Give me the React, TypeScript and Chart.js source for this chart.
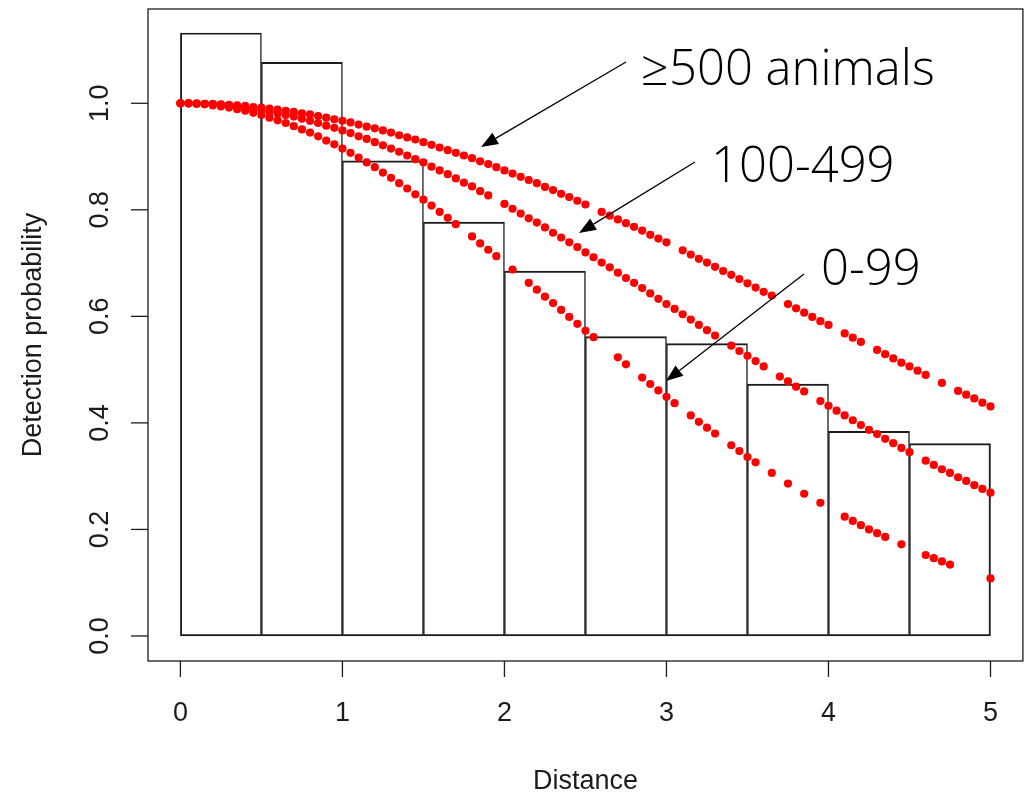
import React, { useEffect, useRef } from "react";
import { Chart, registerables } from "chart.js";

Chart.register(...registerables);

// ---- data ----
const xTicks = [0, 1, 2, 3, 4, 5];
const xTickLabels = ["0", "1", "2", "3", "4", "5"];
const yTicks = [0, 0.2, 0.4, 0.6, 0.8, 1.0];
const yTickLabels = ["0.0", "0.2", "0.4", "0.6", "0.8", "1.0"];

const xTitle = "Distance";
const yTitle = "Detection probability";

// histogram (bin width 0.5)
const histMids = [0.25, 0.75, 1.25, 1.75, 2.25, 2.75, 3.25, 3.75, 4.25, 4.75];
const histHeights = [1.132, 1.077, 0.892, 0.777, 0.685, 0.562, 0.549, 0.473, 0.384, 0.361];

// fitted detection probability at observed distances, group >=500 animals
const distLarge = [0, 0.05, 0.1, 0.15, 0.2, 0.25, 0.3, 0.35, 0.4, 0.45, 0.5, 0.55, 0.6, 0.65, 0.7, 0.75, 0.8, 0.85, 0.9, 0.95,
  1.0, 1.05, 1.1, 1.15, 1.2, 1.25, 1.3, 1.35, 1.4, 1.45, 1.5, 1.55, 1.6, 1.65, 1.7, 1.75, 1.8, 1.85, 1.9, 1.95,
  2.0, 2.05, 2.1, 2.15, 2.2, 2.25, 2.3, 2.35, 2.4, 2.45, 2.5, 2.6, 2.65, 2.7, 2.75, 2.8, 2.85, 2.9, 2.95,
  3.0, 3.1, 3.15, 3.2, 3.25, 3.3, 3.35, 3.4, 3.45, 3.5, 3.55, 3.6, 3.65, 3.75, 3.8, 3.85, 3.9, 3.95,
  4.0, 4.1, 4.15, 4.2, 4.3, 4.35, 4.4, 4.45, 4.5, 4.55, 4.6, 4.7, 4.8, 4.85, 4.9, 4.95, 5.0];
const probLarge = [1.0, 1.0, 1.0, 0.999, 0.999, 0.998, 0.997, 0.996, 0.995, 0.993, 0.992, 0.99, 0.988, 0.986, 0.984, 0.981, 0.979, 0.976, 0.973, 0.97,
  0.967, 0.964, 0.96, 0.956, 0.953, 0.949, 0.945, 0.94, 0.936, 0.932, 0.927, 0.922, 0.917, 0.912, 0.907, 0.902, 0.897, 0.891, 0.886, 0.88,
  0.874, 0.868, 0.862, 0.856, 0.85, 0.843, 0.837, 0.83, 0.824, 0.817, 0.81, 0.796, 0.789, 0.782, 0.775, 0.768, 0.761, 0.753, 0.746,
  0.739, 0.724, 0.716, 0.708, 0.701, 0.693, 0.685, 0.678, 0.67, 0.662, 0.654, 0.646, 0.639, 0.623, 0.615, 0.607, 0.599, 0.591,
  0.584, 0.568, 0.56, 0.552, 0.537, 0.529, 0.521, 0.513, 0.506, 0.498, 0.49, 0.475, 0.46, 0.453, 0.446, 0.438, 0.431];

// group 100-499
const distMid = [0, 0.05, 0.1, 0.15, 0.2, 0.25, 0.3, 0.35, 0.4, 0.45, 0.5, 0.55, 0.6, 0.65, 0.7, 0.75, 0.8, 0.85, 0.9, 0.95,
  1.0, 1.05, 1.1, 1.15, 1.2, 1.25, 1.3, 1.35, 1.4, 1.45, 1.5, 1.55, 1.6, 1.65, 1.7, 1.75, 1.8, 1.85, 1.9,
  2.0, 2.05, 2.1, 2.15, 2.2, 2.25, 2.3, 2.35, 2.4, 2.45, 2.5, 2.55, 2.6, 2.65, 2.7, 2.75, 2.8, 2.85, 2.9, 2.95,
  3.0, 3.05, 3.1, 3.15, 3.2, 3.25, 3.3, 3.4, 3.45, 3.5, 3.55, 3.6, 3.7, 3.75, 3.8, 3.85, 3.95,
  4.0, 4.05, 4.1, 4.15, 4.2, 4.25, 4.3, 4.35, 4.4, 4.45, 4.5, 4.6, 4.65, 4.7, 4.75, 4.8, 4.85, 4.9, 4.95, 5.0];
const probMid = [1.0, 1.0, 0.999, 0.999, 0.998, 0.997, 0.995, 0.994, 0.992, 0.989, 0.987, 0.984, 0.981, 0.978, 0.975, 0.971, 0.967, 0.963, 0.958, 0.954,
  0.949, 0.944, 0.938, 0.933, 0.927, 0.921, 0.915, 0.909, 0.902, 0.895, 0.889, 0.881, 0.874, 0.867, 0.859, 0.851, 0.844, 0.835, 0.827,
  0.811, 0.802, 0.793, 0.784, 0.776, 0.767, 0.757, 0.748, 0.739, 0.73, 0.72, 0.711, 0.701, 0.692, 0.682, 0.672, 0.663, 0.653, 0.643, 0.633,
  0.623, 0.614, 0.604, 0.594, 0.584, 0.574, 0.564, 0.545, 0.535, 0.526, 0.516, 0.506, 0.487, 0.478, 0.468, 0.459, 0.441,
  0.432, 0.423, 0.414, 0.405, 0.396, 0.387, 0.379, 0.37, 0.362, 0.353, 0.345, 0.329, 0.321, 0.313, 0.306, 0.298, 0.291, 0.283, 0.276, 0.269];

// group 0-99
const distSmall = [0, 0.05, 0.1, 0.15, 0.2, 0.25, 0.3, 0.35, 0.4, 0.45, 0.5, 0.55, 0.6, 0.65, 0.7, 0.75, 0.8, 0.85, 0.9, 0.95,
  1.0, 1.05, 1.1, 1.15, 1.2, 1.25, 1.3, 1.35, 1.4, 1.45, 1.5, 1.55, 1.6, 1.65, 1.7, 1.8, 1.85, 1.9, 1.95,
  2.05, 2.15, 2.2, 2.25, 2.3, 2.35, 2.4, 2.45, 2.5, 2.55, 2.7, 2.75, 2.85, 2.9, 2.95,
  3.0, 3.05, 3.15, 3.2, 3.25, 3.3, 3.4, 3.45, 3.5, 3.55, 3.65, 3.75, 3.85, 3.95,
  4.1, 4.15, 4.2, 4.25, 4.3, 4.35, 4.45, 4.6, 4.65, 4.7, 4.75, 5.0];
const probSmall = [1.0, 1.0, 0.999, 0.998, 0.996, 0.994, 0.992, 0.989, 0.986, 0.982, 0.978, 0.973, 0.968, 0.963, 0.957, 0.951, 0.945, 0.938, 0.93, 0.923,
  0.915, 0.907, 0.898, 0.889, 0.88, 0.87, 0.86, 0.85, 0.84, 0.829, 0.819, 0.808, 0.796, 0.785, 0.773, 0.75, 0.737, 0.725, 0.713,
  0.688, 0.663, 0.65, 0.637, 0.625, 0.612, 0.599, 0.586, 0.573, 0.561, 0.523, 0.51, 0.485, 0.473, 0.461,
  0.449, 0.437, 0.414, 0.402, 0.391, 0.38, 0.358, 0.347, 0.336, 0.326, 0.306, 0.286, 0.267, 0.25,
  0.224, 0.216, 0.208, 0.2, 0.193, 0.186, 0.172, 0.152, 0.146, 0.14, 0.134, 0.108];

const annotationLabels = ["\u2265500 animals", "100-499", "0-99"];

// ---- drawing helpers ----
const AXIS_FONT = '27px "Liberation Sans", Arial, sans-serif';
const NOTE_FONT = '300 49px "Open Sans", "Noto Sans", sans-serif';
const INK = "#1c1c1c";

function drawArrow(ctx: CanvasRenderingContext2D, x1: number, y1: number, x2: number, y2: number) {
  const ang = Math.atan2(y2 - y1, x2 - x1);
  const L = 17;
  const W = 6.5;
  const bx = x2 - L * Math.cos(ang);
  const by = y2 - L * Math.sin(ang);
  ctx.beginPath();
  ctx.moveTo(x1, y1);
  ctx.lineTo(bx, by);
  ctx.stroke();
  ctx.beginPath();
  ctx.moveTo(x2, y2);
  ctx.lineTo(bx + W * Math.sin(ang), by - W * Math.cos(ang));
  ctx.lineTo(bx - W * Math.sin(ang), by + W * Math.cos(ang));
  ctx.closePath();
  ctx.fill();
}

const rStylePlot = {
  id: "rStylePlot",
  afterDraw(chart: any) {
    const { ctx, chartArea: a, scales } = chart;
    const xs = scales.x;
    const ys = scales.y;
    ctx.save();
    // box
    ctx.strokeStyle = INK;
    ctx.lineWidth = 1.3;
    ctx.strokeRect(a.left, a.top, a.right - a.left, a.bottom - a.top);

    ctx.fillStyle = INK;
    ctx.font = AXIS_FONT;
    // y axis ticks + rotated labels
    yTicks.forEach((v, i) => {
      const py = ys.getPixelForValue(v);
      ctx.beginPath();
      ctx.moveTo(a.left - 17, py);
      ctx.lineTo(a.left, py);
      ctx.stroke();
      ctx.save();
      ctx.translate(108, py);
      ctx.rotate(-Math.PI / 2);
      ctx.textAlign = "center";
      ctx.textBaseline = "alphabetic";
      ctx.fillText(yTickLabels[i], 0, 0);
      ctx.restore();
    });
    // x axis ticks + labels
    xTicks.forEach((v, i) => {
      const px = xs.getPixelForValue(v);
      ctx.beginPath();
      ctx.moveTo(px, a.bottom);
      ctx.lineTo(px, a.bottom + 16);
      ctx.stroke();
      ctx.textAlign = "center";
      ctx.textBaseline = "alphabetic";
      ctx.fillText(xTickLabels[i], px, 721);
    });
    // axis titles
    ctx.textAlign = "center";
    ctx.fillText(xTitle, (a.left + a.right) / 2, 789);
    ctx.save();
    ctx.translate(41, (a.top + a.bottom) / 2);
    ctx.rotate(-Math.PI / 2);
    ctx.fillText(yTitle, 0, 0);
    ctx.restore();

    // annotations
    ctx.strokeStyle = "#000";
    ctx.fillStyle = "#000";
    ctx.lineWidth = 1.3;
    drawArrow(ctx, 626, 62, 481, 147);
    drawArrow(ctx, 695, 162, 579, 233);
    drawArrow(ctx, 804, 274, 666, 381);
    ctx.font = NOTE_FONT;
    ctx.textAlign = "left";
    ctx.textBaseline = "alphabetic";
    ctx.fillText(annotationLabels[0], 641, 85);
    ctx.fillText(annotationLabels[1], 711, 182);
    ctx.fillText(annotationLabels[2], 821, 285);
    ctx.restore();
  },
};

function zip(xs: number[], ys: number[]) {
  return xs.map((x, i) => ({ x, y: ys[i] }));
}

export default function App() {
  const ref = useRef<HTMLCanvasElement | null>(null);
  useEffect(() => {
    if (!ref.current) return;
    const lastBar = histMids.length - 1;
    const pointStyle = {
      type: "scatter" as const,
      showLine: false,
      pointRadius: 4.1,
      pointHoverRadius: 4.1,
      pointBackgroundColor: "#ff0000",
      pointBorderWidth: 0,
      borderColor: "#ff0000",
      backgroundColor: "#ff0000",
      order: 1,
    };
    const chart = new Chart(ref.current, {
      type: "scatter",
      data: {
        datasets: [
          {
            type: "bar",
            data: zip(histMids, histHeights),
            backgroundColor: "rgba(255,255,255,0)",
            borderColor: INK,
            borderWidth: (c: any) => ({
              top: 1.3,
              bottom: 1.3,
              left: c.dataIndex === 0 ? 1.3 : 0.8,
              right: c.dataIndex === lastBar ? 1.3 : 0.8,
            }),
            borderSkipped: false,
            barPercentage: 1,
            categoryPercentage: 1,
            order: 10,
          } as any,
          { ...pointStyle, label: "\u2265500", data: zip(distLarge, probLarge) },
          { ...pointStyle, label: "100-499", data: zip(distMid, probMid) },
          { ...pointStyle, label: "0-99", data: zip(distSmall, probSmall) },
        ],
      },
      options: {
        animation: false,
        responsive: false,
        events: [],
        layout: { padding: { left: 148, top: 9, right: 2, bottom: 131 } },
        plugins: { legend: { display: false }, tooltip: { enabled: false } },
        scales: {
          x: {
            type: "linear",
            min: -0.2,
            max: 5.2,
            display: false,
            offset: false,
            afterBuildTicks: (s: any) => {
              s.ticks = xTicks.map((v) => ({ value: v }));
            },
          },
          y: {
            type: "linear",
            min: -0.047,
            max: 1.177,
            display: false,
            afterBuildTicks: (s: any) => {
              s.ticks = yTicks.map((v) => ({ value: v }));
            },
          },
        },
      },
      plugins: [rStylePlot],
    } as any);
    return () => chart.destroy();
  }, []);
  return (
    <div style={{ position: "absolute", left: 0, top: 0, width: 1027, height: 792, background: "#fff" }}>
      <canvas ref={ref} width={1027} height={792} style={{ display: "block" }} />
    </div>
  );
}
